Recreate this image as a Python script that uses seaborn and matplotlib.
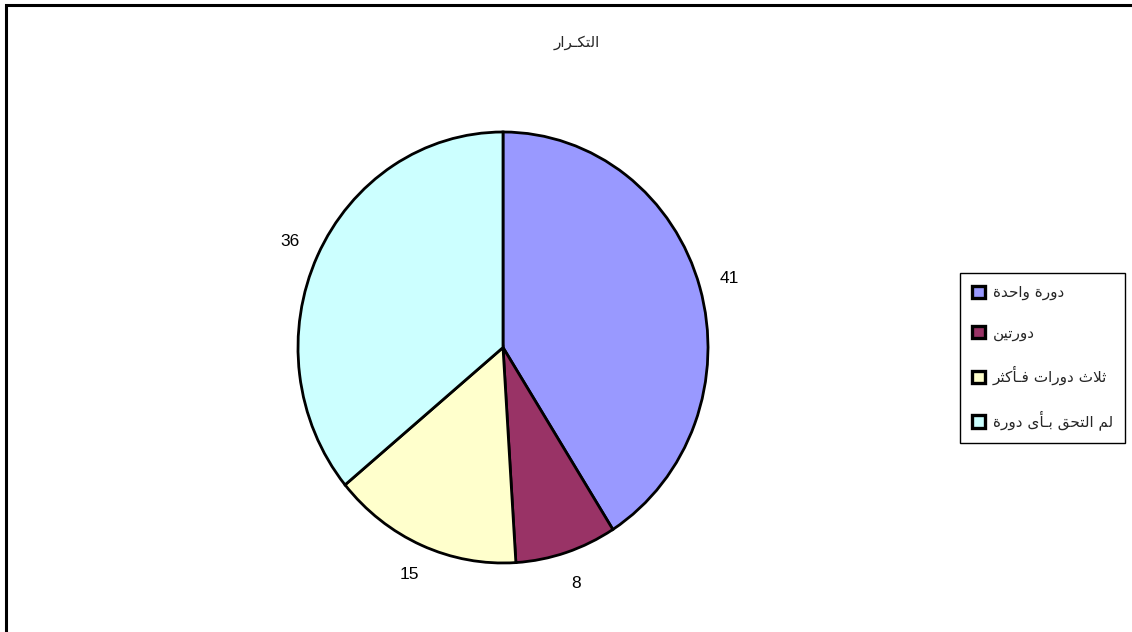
import matplotlib
matplotlib.use("Agg")
import matplotlib.pyplot as plt
import matplotlib.patches as mpatches
import seaborn as sns

# data
title = "التكـرار"
categories = ["دورة واحدة", "دورتين", "ثلاث دورات فـأكثر", "لم التحق بـأى دورة"]
counts = [41, 8, 15, 36]
colors = ["#9999FF", "#993366", "#FFFFCC", "#CCFFFF"]

# minimal arabic shaping (matplotlib has no bidi / joining support)
# base letter -> (first presentation form, number of forms)
FORMS = {
    'آ': (0xFE81, 2), 'أ': (0xFE83, 2), 'إ': (0xFE87, 2), 'ا': (0xFE8D, 2),
    'ب': (0xFE8F, 4), 'ة': (0xFE93, 2), 'ت': (0xFE95, 4), 'ث': (0xFE99, 4),
    'ج': (0xFE9D, 4), 'ح': (0xFEA1, 4), 'خ': (0xFEA5, 4), 'د': (0xFEA9, 2),
    'ذ': (0xFEAB, 2), 'ر': (0xFEAD, 2), 'ز': (0xFEAF, 2), 'س': (0xFEB1, 4),
    'ش': (0xFEB5, 4), 'ع': (0xFEC9, 4), 'ف': (0xFED1, 4), 'ق': (0xFED5, 4),
    'ك': (0xFED9, 4), 'ل': (0xFEDD, 4), 'م': (0xFEE1, 4), 'ن': (0xFEE5, 4),
    'ه': (0xFEE9, 4), 'و': (0xFEED, 2), 'ى': (0xFEEF, 2), 'ي': (0xFEF1, 4),
}
LAM_ALEF = {'آ': (0xFEF5, 2), 'أ': (0xFEF7, 2), 'إ': (0xFEF9, 2), 'ا': (0xFEFB, 2)}
TATWEEL = '\u0640'


def shape_ar(text):
    tokens = []
    i = 0
    while i < len(text):
        ch = text[i]
        if ch == 'ل' and i + 1 < len(text) and text[i + 1] in LAM_ALEF:
            tokens.append(LAM_ALEF[text[i + 1]])
            i += 2
        else:
            tokens.append(FORMS.get(ch, ch))
            i += 1

    def joins_left(t):
        return t == TATWEEL or (isinstance(t, tuple) and t[1] == 4)

    def is_letter(t):
        return t == TATWEEL or isinstance(t, tuple)

    out = []
    for k, t in enumerate(tokens):
        if not isinstance(t, tuple):
            out.append(t)
            continue
        base, n = t
        prev = k > 0 and joins_left(tokens[k - 1])
        nxt = n == 4 and k + 1 < len(tokens) and is_letter(tokens[k + 1])
        if prev and nxt:
            code = base + 3
        elif nxt:
            code = base + 2
        elif prev:
            code = base + 1
        else:
            code = base
        out.append(chr(code))
    return ''.join(out)[::-1]


sns.set_style("white")
plt.rcParams['font.family'] = ['Liberation Sans', 'DejaVu Sans']

fig = plt.figure(figsize=(11.32, 6.32), dpi=100)
W, H = 1132, 632

# pie axes (slightly taller than wide, like the original)
cx, cy, rx, ry = 503, 347.5, 205, 215.5
ax = fig.add_axes([(cx - 2.5 * rx / 2) / W, (H - cy - 2.5 * ry / 2) / H,
                   2.5 * rx / W, 2.5 * ry / H])
wedges, texts = ax.pie(
    counts, colors=colors, startangle=90, counterclock=False,
    labels=[str(v) for v in counts], labeldistance=1.15,
    wedgeprops=dict(edgecolor='black', linewidth=2.0),
    textprops=dict(fontsize=12.5, ha='center', va='center', color='black'),
)
ax.set_aspect('auto')
ax.set_xlim(-1.25, 1.25)
ax.set_ylim(-1.25, 1.25)

fig.text(577 / W, 1 - 42 / H, shape_ar(title), ha='center', va='center',
         fontsize=11, family=['DejaVu Sans'])

handles = [mpatches.Patch(facecolor=c, edgecolor='black', linewidth=2.4) for c in colors]
leg = fig.legend(
    handles, [shape_ar(c) for c in categories],
    loc='upper left', bbox_to_anchor=(960 / W, 1 - 273 / H),
    bbox_transform=fig.transFigure, borderaxespad=0,
    frameon=True, fancybox=False, shadow=False, framealpha=1,
    edgecolor='black', handlelength=0.85, handleheight=0.85,
    handletextpad=0.5, labelspacing=1.65, borderpad=0.8,
    prop=dict(family=['DejaVu Sans'], size=11),
)
leg.get_frame().set_linewidth(1.0)

# outer chart border (right and bottom edges run off the picture)
fig.patches.append(mpatches.Rectangle(
    (6 / W, -0.05), 1.1, 1 - 4.5 / H + 0.05, transform=fig.transFigure,
    fill=False, edgecolor='black', linewidth=2.2, clip_on=False))

fig.savefig("out.png", dpi=100)
